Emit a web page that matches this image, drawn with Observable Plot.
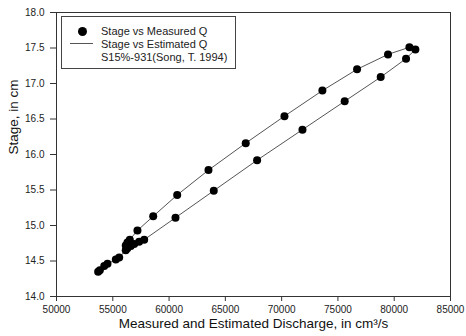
<!DOCTYPE html>
<html>
<head>
<meta charset="utf-8">
<script src="https://cdn.jsdelivr.net/npm/d3@7"></script>
<script src="https://cdn.jsdelivr.net/npm/@observablehq/plot@0.6"></script>
<style>
  body { margin: 0; background: #fff; font-family: Arial, "Liberation Sans", sans-serif; }
  #wrap { position: relative; width: 466px; height: 336px; }
  #legend { position: absolute; left: 61px; top: 16px; width: 175px; height: 53px;
            border: 1px solid #444; background: #fff; font-size: 11px; color: #222; box-sizing: border-box; }
  #legend .row { position: absolute; left: 39px; white-space: nowrap; line-height: 13px; }
  #legend .dot { position: absolute; left: 16px; top: 10px; width: 9px; height: 9px; border-radius: 50%; background: #000; }
  #legend .ln { position: absolute; left: 8px; top: 26px; width: 23px; height: 0; border-top: 1px solid #555; }
</style>
</head>
<body>
<div id="wrap">
  <div id="chart"></div>
  <div id="legend">
    <div class="dot"></div>
    <div class="ln"></div>
    <div class="row" style="top:8px">Stage vs Measured Q</div>
    <div class="row" style="top:21px">Stage vs Estimated Q</div>
    <div class="row" style="top:34px">S15%-931(Song, T. 1994)</div>
  </div>
</div>
<script>
// Discharge (cm^3/s) and stage (cm) around the hysteresis loop, in path order
const discharge = [53700, 53850, 54240, 54530, 55270, 55570, 56150, 56300, 56600, 56900, 57340, 57790,
  60570, 63970, 67820, 71850, 75600, 78800, 81050, 81880, 81350, 79450, 76700, 73620, 70250,
  66810, 63500, 60720, 58590, 57190, 56510, 56300, 56150];
const stage = [14.35, 14.37, 14.43, 14.46, 14.52, 14.55, 14.65, 14.68, 14.71, 14.74, 14.77, 14.80,
  15.11, 15.49, 15.92, 16.35, 16.75, 17.09, 17.35, 17.48, 17.51, 17.41, 17.20, 16.90, 16.54,
  16.16, 15.78, 15.43, 15.13, 14.93, 14.80, 14.76, 14.72];
const xTicks = [50000, 55000, 60000, 65000, 70000, 75000, 80000, 85000];
const yTicks = [14.0, 14.5, 15.0, 15.5, 16.0, 16.5, 17.0, 17.5, 18.0];

const data = discharge.map((q, i) => ({q, s: stage[i]}));

const chart = Plot.plot({
  width: 466,
  height: 336,
  marginLeft: 56,
  marginRight: 16,
  marginTop: 12,
  marginBottom: 40,
  style: {fontFamily: "Arial, 'Liberation Sans', sans-serif", color: "#222", background: "#fff"},
  x: {domain: [50000, 85000]},
  y: {domain: [14, 18]},
  marks: [
    Plot.frame({stroke: "#333"}),
    Plot.axisX({ticks: xTicks, tickFormat: d3.format("d"), tickSize: 5, tickPadding: 4, fontSize: 10, label: null, stroke: "#333"}),
    Plot.axisY({ticks: yTicks, tickFormat: d3.format(".1f"), tickSize: 6, tickPadding: 6, fontSize: 10, label: null, stroke: "#333"}),
    Plot.text(["Measured and Estimated Discharge, in cm³/s"], {frameAnchor: "bottom", dy: 31, fontSize: 13.5, fill: "#111"}),
    Plot.text(["Stage, in cm"], {frameAnchor: "left", dx: -43, rotate: -90, fontSize: 13.5, fill: "#111"}),
    Plot.line(data, {x: "q", y: "s", stroke: "#555", strokeWidth: 1}),
    Plot.dot(data, {x: "q", y: "s", r: 4, fill: "#000", stroke: "none"})
  ]
});
document.getElementById("chart").appendChild(chart);
</script>
</body>
</html>
